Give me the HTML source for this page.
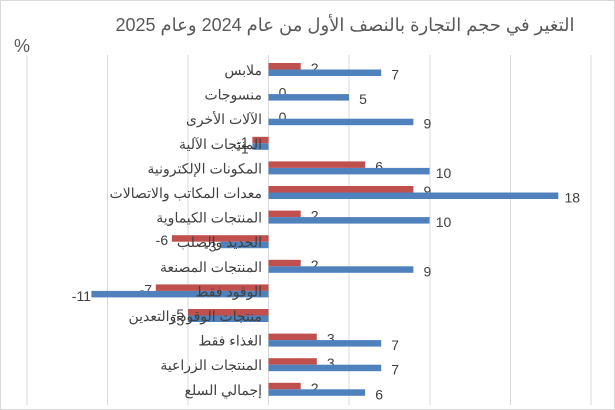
<!DOCTYPE html>
<html><head><meta charset="utf-8"><style>
body{margin:0;background:#fff}
svg{display:block;font-family:"Liberation Sans","Noto Sans CJK SC",sans-serif}
</style></head><body>
<svg width="615" height="410" viewBox="0 0 615 410">
<rect x="0.5" y="0.5" width="614" height="409" fill="#fff" stroke="#d9d9d9"/>
<text x="345" y="31" font-size="18" fill="#595959" text-anchor="middle">التغير في حجم التجارة بالنصف الأول من عام 2024 وعام 2025</text>
<text x="22" y="52" font-size="18" fill="#595959" text-anchor="middle">%</text>
<g stroke="#d9d9d9" stroke-width="1">
<line x1="27" y1="55" x2="27" y2="405"/><line x1="107.5" y1="55" x2="107.5" y2="405"/>
<line x1="188" y1="55" x2="188" y2="405"/><line x1="268.5" y1="55" x2="268.5" y2="405"/>
<line x1="349" y1="55" x2="349" y2="405"/><line x1="430" y1="55" x2="430" y2="405"/>
<line x1="510.5" y1="55" x2="510.5" y2="405"/><line x1="591" y1="55" x2="591" y2="405"/>
</g>
<g id="bars"></g>
</svg>
<script>
var d=[["ملابس",2,7],["منسوجات",0,5],["الآلات الأخرى",0,9],["المنتجات الآلية",-1,-1],["المكونات الإلكترونية",6,10],["معدات المكاتب والاتصالات",9,18],["المنتجات الكيماوية",2,10],["الحديد والصلب",-6,-3],["المنتجات المصنعة",2,9],["الوقود فقط",-7,-11],["منتجات الوقود والتعدين",-5,-5],["الغذاء فقط",3,7],["المنتجات الزراعية",3,7],["إجمالي السلع",2,6]];
var g=document.getElementById('bars'),s='',z=268.5,u=16.1;
d.forEach(function(r,i){var y=63+i*24.6;
function bar(v,yy,c){var w=Math.abs(v)*u,x=v<0?z-w:z;
s+='<rect x="'+x+'" y="'+yy+'" width="'+w+'" height="6.5" fill="'+c+'"/>';
var tx=v<0?x-10:x+w+14;
s+='<text x="'+tx+'" y="'+(yy+10)+'" font-size="14" fill="#404040" text-anchor="middle">'+v+'</text>';}
bar(r[1],y,'#c0504d');bar(r[2],y+6.5,'#4f81bd');
s+='<text x="262" y="'+(y+12)+'" font-size="14" fill="#404040" text-anchor="end">'+r[0]+'</text>';});
g.innerHTML=s;
</script>
</body></html>
